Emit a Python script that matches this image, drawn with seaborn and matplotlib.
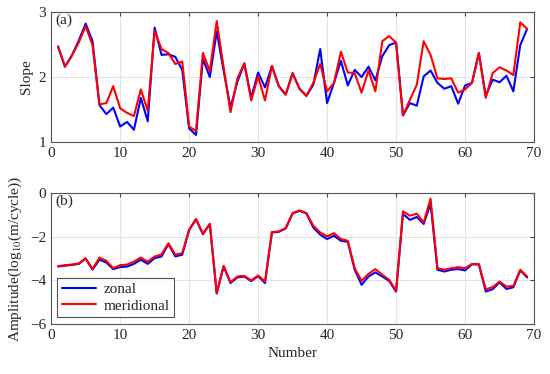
import matplotlib
matplotlib.use("Agg")

import numpy as np
import pandas as pd
import matplotlib.pyplot as plt
import seaborn as sns

# -------------------------
# DATA
# -------------------------
number = list(range(1, 70))

slope_zonal = [
    2.47, 2.16, 2.33, 2.56, 2.82, 2.55, 1.57, 1.43, 1.53, 1.24,
    1.31, 1.19, 1.68, 1.32, 2.76, 2.34, 2.35, 2.31, 2.11, 1.21,
    1.11, 2.28, 2.00, 2.70, 2.10, 1.53, 1.93, 2.21, 1.68, 2.07,
    1.84, 2.17, 1.86, 1.73, 2.06, 1.82, 1.71, 1.88, 2.43, 1.60,
    1.91, 2.25, 1.87, 2.11, 2.00, 2.16, 1.95, 2.32, 2.49, 2.53,
    1.41, 1.60, 1.56, 2.01, 2.10, 1.91, 1.82, 1.86, 1.59, 1.87,
    1.91, 2.37, 1.71, 1.96, 1.92, 2.02, 1.78, 2.49, 2.74,
]
slope_meridional = [
    2.47, 2.16, 2.33, 2.53, 2.78, 2.49, 1.58, 1.60, 1.86, 1.52,
    1.45, 1.40, 1.81, 1.48, 2.71, 2.43, 2.37, 2.20, 2.24, 1.24,
    1.17, 2.37, 2.09, 2.86, 2.15, 1.46, 1.98, 2.21, 1.64, 2.01,
    1.64, 2.17, 1.86, 1.73, 2.06, 1.82, 1.71, 1.91, 2.20, 1.78,
    1.91, 2.39, 2.07, 2.06, 1.76, 2.10, 1.78, 2.55, 2.63, 2.53,
    1.41, 1.65, 1.88, 2.55, 2.34, 1.98, 1.97, 1.98, 1.76, 1.81,
    1.91, 2.37, 1.68, 2.06, 2.15, 2.10, 2.03, 2.84, 2.74,
]

amp_zonal = [
    -3.37, -3.33, -3.30, -3.25, -3.01, -3.51, -3.06, -3.19, -3.49, -3.40,
    -3.37, -3.25, -3.06, -3.25, -2.99, -2.91, -2.34, -2.91, -2.83, -1.70,
    -1.21, -1.89, -1.43, -4.61, -3.36, -4.13, -3.87, -3.83, -4.04, -3.81,
    -4.13, -1.81, -1.78, -1.63, -0.94, -0.82, -0.94, -1.58, -1.91, -2.11,
    -1.96, -2.19, -2.24, -3.52, -4.21, -3.83, -3.64, -3.83, -4.03, -4.52,
    -0.96, -1.23, -1.10, -1.42, -0.49, -3.52, -3.60, -3.52, -3.49, -3.55,
    -3.27, -3.28, -4.52, -4.41, -4.10, -4.40, -4.32, -3.55, -3.87,
]
amp_meridional = [
    -3.35, -3.31, -3.28, -3.23, -2.99, -3.49, -2.96, -3.11, -3.45, -3.31,
    -3.28, -3.15, -2.96, -3.15, -2.91, -2.82, -2.30, -2.82, -2.76, -1.68,
    -1.19, -1.87, -1.41, -4.59, -3.34, -4.09, -3.83, -3.80, -4.01, -3.78,
    -4.06, -1.79, -1.76, -1.61, -0.92, -0.80, -0.92, -1.50, -1.81, -1.99,
    -1.84, -2.11, -2.19, -3.45, -4.03, -3.71, -3.49, -3.75, -3.98, -4.49,
    -0.84, -1.04, -0.95, -1.35, -0.26, -3.45, -3.52, -3.45, -3.40, -3.45,
    -3.25, -3.26, -4.41, -4.32, -4.06, -4.29, -4.26, -3.52, -3.83,
]

components = ["zonal", "meridional"]
colors = {"zonal": "#0000ff", "meridional": "#ff0000"}

slope_df = pd.DataFrame({
    "Number": number * 2,
    "value": slope_zonal + slope_meridional,
    "component": ["zonal"] * len(number) + ["meridional"] * len(number),
})
amp_df = pd.DataFrame({
    "Number": number * 2,
    "value": amp_zonal + amp_meridional,
    "component": ["zonal"] * len(number) + ["meridional"] * len(number),
})

# -------------------------
# STYLE
# -------------------------
sns.set_style("white")
plt.rcParams["font.family"] = ["Liberation Serif", "DejaVu Serif"]
plt.rcParams["mathtext.fontset"] = "stix"
plt.rcParams["font.size"] = 11

fig = plt.figure(figsize=(5.5, 3.74), dpi=100)
ax1 = fig.add_axes([0.093, 0.620, 0.878, 0.348])
ax2 = fig.add_axes([0.093, 0.134, 0.878, 0.350])


def style_axis(ax):
    ax.set_xlim(0, 70)
    ax.set_xticks(range(0, 71, 10))
    ax.grid(True, color="#e3e3e3", linewidth=0.8)
    ax.tick_params(direction="in", top=True, right=True, length=3,
                   color="#444444", labelsize=11, labelcolor="#262626")
    for s in ax.spines.values():
        s.set_color("#555555")
        s.set_linewidth(0.8)


# -------------------------
# (a) SLOPE
# -------------------------
sns.lineplot(data=slope_df, x="Number", y="value", hue="component",
             hue_order=components, palette=colors, linewidth=1.5,
             ax=ax1, legend=False)
style_axis(ax1)
ax1.set_ylim(1, 3)
ax1.set_yticks([1, 2, 3])
ax1.set_xlabel("")
ax1.set_ylabel("Slope", fontsize=11, color="#262626")
ax1.text(0.008, 0.985, "(a)", transform=ax1.transAxes, ha="left", va="top",
         fontsize=11, color="#262626")

# -------------------------
# (b) AMPLITUDE
# -------------------------
sns.lineplot(data=amp_df, x="Number", y="value", hue="component",
             hue_order=components, palette=colors, linewidth=1.5, ax=ax2)
style_axis(ax2)
ax2.set_ylim(-6, 0)
ax2.set_yticks([-6, -4, -2, 0])
ax2.set_xlabel("Number", fontsize=11, color="#262626")
ax2.set_ylabel("Amplitude(log$_{10}$(m/cycle))", fontsize=11, color="#262626")
ax2.text(0.008, 0.985, "(b)", transform=ax2.transAxes, ha="left", va="top",
         fontsize=11, color="#262626")

leg = ax2.legend(loc="lower left", bbox_to_anchor=(0.013, 0.05),
                 borderaxespad=0, frameon=True, fancybox=False, fontsize=11,
                 handlelength=2.2, borderpad=0.3, labelspacing=0.2,
                 handletextpad=0.5)
leg.get_frame().set_edgecolor("#262626")
leg.get_frame().set_linewidth(0.8)

fig.savefig("out.png", dpi=100)
